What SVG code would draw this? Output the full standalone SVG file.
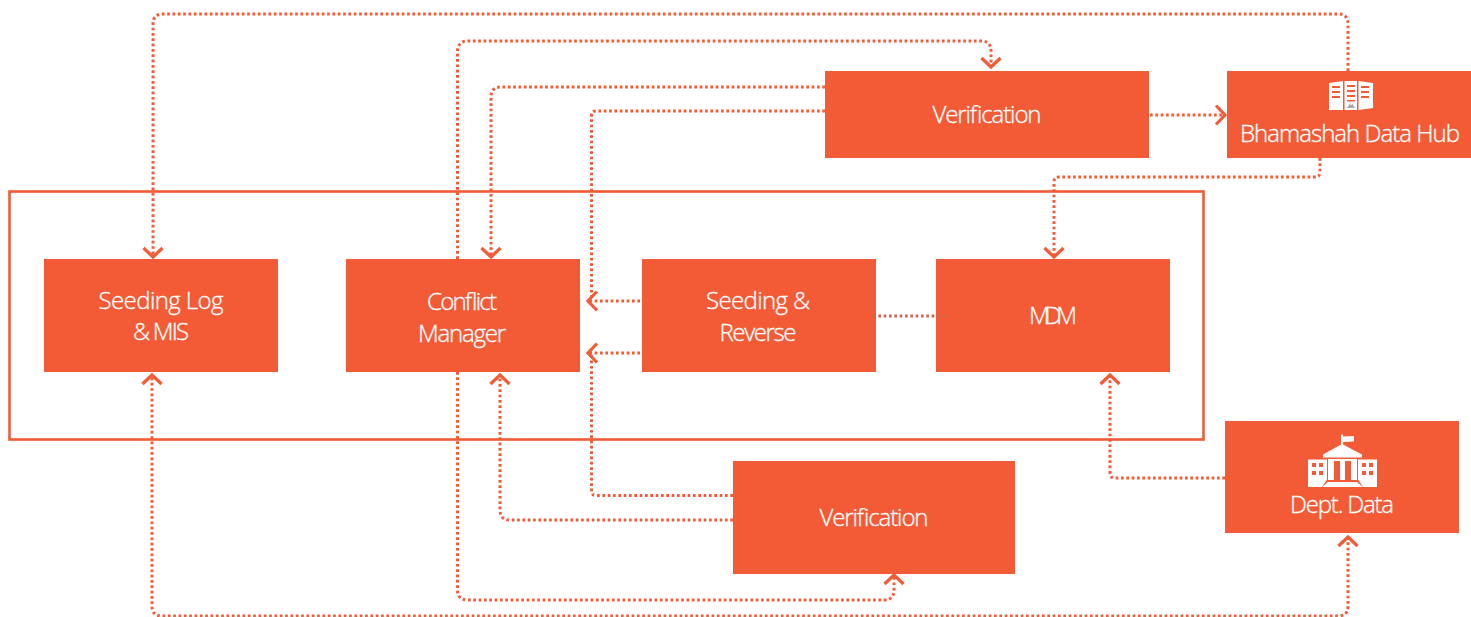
<svg xmlns="http://www.w3.org/2000/svg" width="1471" height="617" viewBox="0 0 1471 617">
<style>
.box{fill:#f35b37}
.t{font-family:"Open Sans","Noto Sans",sans-serif;font-weight:300;font-size:24px;fill:#fff;stroke:#fff;stroke-width:.3;text-anchor:middle}
.c{fill:none;stroke:#f35b37;stroke-width:3;stroke-dasharray:2.7 2.63}
.e{marker-end:url(#a)}
.s{marker-start:url(#b)}
.w{fill:#fff}
.o{fill:#f35b37}
</style>
<defs>
<marker id="a" markerUnits="userSpaceOnUse" markerWidth="14" markerHeight="24" refX="11" refY="12" orient="auto">
<path d="M2 2.500L11 12L2 21.500" fill="none" stroke="#f35b37" stroke-width="3.200"/>
</marker>
<marker id="b" markerUnits="userSpaceOnUse" markerWidth="14" markerHeight="24" refX="3" refY="12" orient="auto">
<path d="M12 2.500L3 12L12 21.500" fill="none" stroke="#f35b37" stroke-width="3.200"/>
</marker>
</defs>
<rect width="1471" height="617" fill="#fff"/>
<rect id="frame" x="9.500" y="191.500" width="1194" height="248" fill="none" stroke="#f35b37" stroke-width="2.600"/>
<g id="connectors">
<path class="c e" d="M1348 71V24Q1348 14 1338 14H163Q153 14 153 24V257"/>
<path class="c e" d="M457.500 259V52Q457.500 41 468 41H981Q991 41 991 51V67"/>
<path class="c e" d="M825 87H501Q491 87 491 97V257"/>
<path class="c" d="M825 111H596Q591.500 111 591.500 116V300"/>
<path class="c" d="M733 495.500H596Q591.500 495.500 591.500 491V355"/>
<path class="c e" d="M640 301H588"/>
<path class="c e" d="M640 353H588"/>
<path class="c e" d="M1150 115H1225"/>
<path class="c e" d="M1320 158V172Q1320 177 1315 177H1059Q1054 177 1054 182V257"/>
<path class="c e" d="M1225 478H1115Q1110 478 1110 473V375"/>
<path class="c e" d="M733 520H510Q500 520 500 510V375"/>
<path class="c e" d="M457.500 372V590Q457.500 600 468 600H884Q894 600 894 590V575"/>
<path class="c e s" d="M1348 537V606Q1348 616 1338 616H162Q152 616 152 606V375"/>
</g>
<g id="seeding-log"><rect class="box" x="44" y="259" width="234" height="113"/><text class="t" x="161" y="309" textLength="125">Seeding Log</text><text class="t" x="161" y="340" textLength="56">&amp; MIS</text></g>
<g id="conflict-manager"><rect class="box" x="346" y="259" width="234" height="113"/><text class="t" x="462" y="310" textLength="70">Conflict</text><text class="t" x="462" y="342" textLength="88">Manager</text></g>
<g id="seeding-reverse"><rect class="box" x="642" y="259" width="234" height="113"/><text class="t" x="758" y="309" textLength="104">Seeding &amp;</text><text class="t" x="758" y="341" textLength="77">Reverse</text></g>
<g id="mdm"><rect class="box" x="936" y="259" width="234" height="113"/><text class="t" x="1053" y="324" textLength="48">MDM</text></g>
<g id="verification-top"><rect class="box" x="825" y="71" width="324" height="87"/><text class="t" x="987" y="123" textLength="109">Verification</text></g>
<g id="verification-bottom"><rect class="box" x="733" y="461" width="282" height="113"/><text class="t" x="874" y="526" textLength="109">Verification</text></g>
<g id="data-hub"><rect class="box" x="1227" y="71" width="244" height="87"/>
<path class="w" d="M1329 83L1343 81V110H1329ZM1344.500 81H1357V110H1344.500ZM1358.500 81L1373 83V108L1358.500 110Z"/>
<path class="o" d="M1332 86h8v2h-8zM1332 91h8v2h-8zM1332 96h8v2h-8zM1347 85h8v2h-8zM1347 90h8v2h-8zM1347 95h8v2h-8zM1347 100h8v1.500h-8zM1361 86h8v2h-8zM1361 91h8v2h-8zM1361 96h8v2h-8z"/>
<path fill="#aaa" d="M1347 108l2.500-4 1.500 1 1.500-1 2.500 4z"/>
<text class="t" x="1350" y="142" textLength="220">Bhamashah Data Hub</text></g>
<g id="dept-data"><rect class="box" x="1225" y="421" width="234" height="112"/>
<path class="w" d="M1341 434.500h2v2l11 -.5v5.500l-11 .5v2.500l19 10v3h-39v-3l18-10ZM1308 459.500h19v20l-5 7.500h-14ZM1377 459.500h-19v20l5 7.500h14Z"/>
<path class="w" d="M1328 459h29v21h-29ZM1328 482h29l6 5h-41Z"/>
<path class="o" d="M1334 461h6v19h-6zM1345 461h6v19h-6zM1312 463h4v4h-4zM1319 463h4v4h-4zM1312 471h4v4h-4zM1319 471h4v4h-4zM1362 463h4v4h-4zM1369 463h4v4h-4zM1362 471h4v4h-4zM1369 471h4v4h-4z"/>
<text class="t" x="1342" y="513" textLength="104">Dept. Data</text></g>
<path id="link-seeding-mdm" d="M873 316H948" fill="none" stroke="#c8694f" stroke-width="3" stroke-dasharray="2.700 2.630"/>
</svg>
